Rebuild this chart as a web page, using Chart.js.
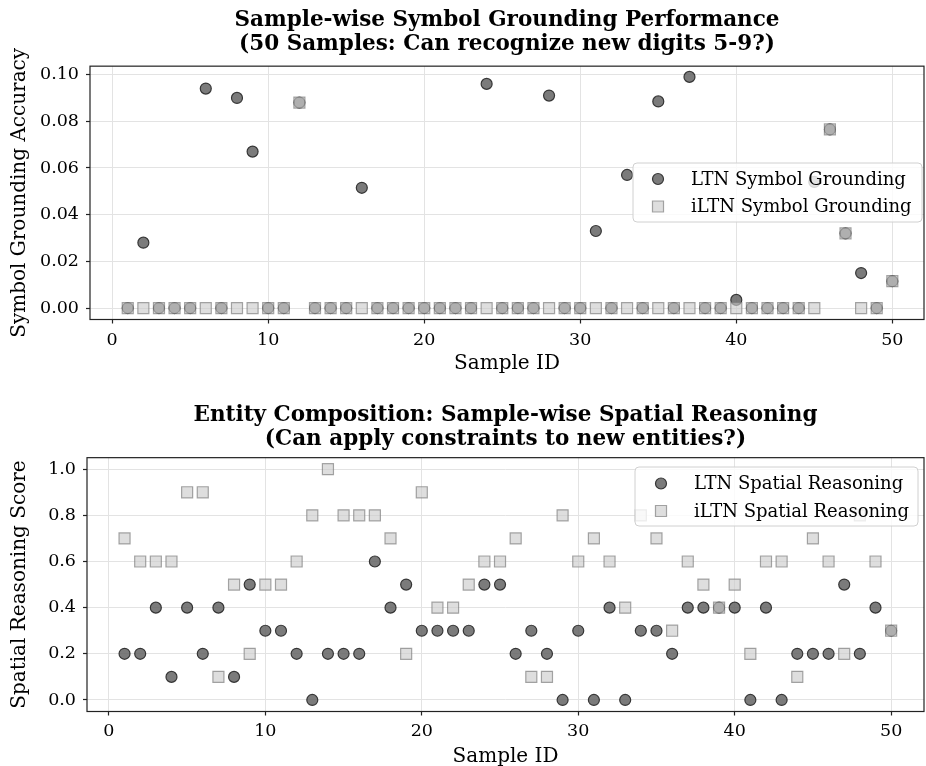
<!DOCTYPE html>
<html>
<head>
<meta charset="utf-8">
<title>Sample-wise Symbol Grounding and Spatial Reasoning</title>
<script src="https://cdn.jsdelivr.net/npm/chart.js@4.4.0/dist/chart.umd.min.js"></script>
<style>
    body { margin: 0; background: #ffffff; }
    canvas { display: block; }
</style>
</head>
<body>
<canvas id="groundingChart" width="926" height="383"></canvas>
<canvas id="spatialChart" width="926" height="383"></canvas>
<script>
// Sample IDs shared by both panels
const sampleIds = [1, 2, 3, 4, 5, 6, 7, 8, 9, 10,
    11, 12, 13, 14, 15, 16, 17, 18, 19, 20,
    21, 22, 23, 24, 25, 26, 27, 28, 29, 30,
    31, 32, 33, 34, 35, 36, 37, 38, 39, 40,
    41, 42, 43, 44, 45, 46, 47, 48, 49, 50];

// Top panel - symbol grounding accuracy
const ltnGrounding = [0, 0.028, 0, 0, 0, 0.094, 0, 0.090, 0.067, 0,
    0, 0.088, 0, 0, 0, 0.0515, 0, 0, 0, 0,
    0, 0, 0, 0.096, 0, 0, 0, 0.091, 0, 0,
    0.033, 0, 0.057, 0, 0.0885, 0, 0.099, 0, 0, 0.0035,
    0, 0, 0, 0, 0.054, 0.0765, 0.032, 0.015, 0, 0.0115];
const iltnGrounding = [0, 0, 0, 0, 0, 0, 0, 0, 0, 0,
    0, 0.088, 0, 0, 0, 0, 0, 0, 0, 0,
    0, 0, 0, 0, 0, 0, 0, 0, 0, 0,
    0, 0, 0, 0, 0, 0, 0, 0, 0, 0,
    0, 0, 0, 0, 0, 0.0765, 0.032, 0, 0, 0.0115];

// Bottom panel - spatial reasoning score
const ltnSpatial = [0.2, 0.2, 0.4, 0.1, 0.4, 0.2, 0.4, 0.1, 0.5, 0.3,
    0.3, 0.2, 0.0, 0.2, 0.2, 0.2, 0.6, 0.4, 0.5, 0.3,
    0.3, 0.3, 0.3, 0.5, 0.5, 0.2, 0.3, 0.2, 0.0, 0.3,
    0.0, 0.4, 0.0, 0.3, 0.3, 0.2, 0.4, 0.4, 0.4, 0.4,
    0.0, 0.4, 0.0, 0.2, 0.2, 0.2, 0.5, 0.2, 0.4, 0.3];
const iltnSpatial = [0.7, 0.6, 0.6, 0.6, 0.9, 0.9, 0.1, 0.5, 0.2, 0.5,
    0.5, 0.6, 0.8, 1.0, 0.8, 0.8, 0.8, 0.7, 0.2, 0.9,
    0.4, 0.4, 0.5, 0.6, 0.6, 0.7, 0.1, 0.1, 0.8, 0.6,
    0.7, 0.6, 0.4, 0.8, 0.7, 0.3, 0.6, 0.5, 0.4, 0.5,
    0.2, 0.6, 0.6, 0.1, 0.7, 0.6, 0.2, 0.8, 0.6, 0.3];

// Tick labels
const xTicks = [0, 10, 20, 30, 40, 50];
const groundingTicks = [0, 0.02, 0.04, 0.06, 0.08, 0.10];
const spatialTicks = [0, 0.2, 0.4, 0.6, 0.8, 1.0];

const FONT = 'DejaVu Serif';
const PLOT_RIGHT = 924;

const ltnStyle = {
    pointStyle: 'circle',
    pointRadius: 5.5,
    pointBackgroundColor: 'rgba(100, 100, 100, 0.85)',
    pointBorderColor: 'rgba(40, 40, 40, 0.9)',
    pointBorderWidth: 1.2,
    order: 1
};
const iltnStyle = {
    pointStyle: 'rect',
    pointRadius: 7.8,
    pointBackgroundColor: 'rgba(205, 205, 205, 0.65)',
    pointBorderColor: 'rgba(120, 120, 120, 0.65)',
    pointBorderWidth: 1.2,
    order: 0
};

function toPoints(values) {
    return sampleIds.map(function(id, i) {
        return { x: id, y: values[i] };
    });
}

// Stretch the plot area to the right edge, frame it and draw a boxed legend inside
const framePlugin = {
    id: 'frameAndLegend',
    afterLayout(chart) {
        const a = chart.chartArea;
        a.right = PLOT_RIGHT;
        a.width = a.right - a.left;
        const x = chart.scales.x;
        x.right = PLOT_RIGHT;
        x.width = x.right - x.left;
        x.configure();
        if (chart.titleBlock) {
            chart.titleBlock.right = PLOT_RIGHT;
            chart.titleBlock.width = PLOT_RIGHT - chart.titleBlock.left;
        }
    },
    afterDatasetsDraw(chart, args, opts) {
        const ctx = chart.ctx;
        const a = chart.chartArea;
        ctx.save();
        ctx.strokeStyle = '#222222';
        ctx.lineWidth = 1.2;
        ctx.strokeRect(a.left, a.top, a.right - a.left, a.bottom - a.top);

        const box = opts.box;
        ctx.beginPath();
        ctx.roundRect(box.left, box.top, box.width, box.height, 4);
        ctx.fillStyle = 'rgba(255, 255, 255, 0.8)';
        ctx.fill();
        ctx.strokeStyle = '#d0d0d0';
        ctx.lineWidth = 1;
        ctx.stroke();

        ctx.font = '18px "' + FONT + '"';
        ctx.textBaseline = 'middle';
        ctx.textAlign = 'left';
        chart.data.datasets.forEach(function(ds, i) {
            const cy = box.rowY[i];
            const cx = box.markerX;
            ctx.beginPath();
            if (ds.pointStyle === 'circle') {
                ctx.arc(cx, cy, ds.pointRadius, 0, Math.PI * 2);
            } else {
                const s = ds.pointRadius * Math.SQRT1_2;
                ctx.rect(cx - s, cy - s, 2 * s, 2 * s);
            }
            ctx.fillStyle = ds.pointBackgroundColor;
            ctx.fill();
            ctx.strokeStyle = ds.pointBorderColor;
            ctx.lineWidth = ds.pointBorderWidth;
            ctx.stroke();
            ctx.fillStyle = '#000000';
            ctx.fillText(ds.label, box.textX, cy + 1);
        });
        ctx.restore();
    }
};

function makeChart(id, cfg) {
    const ctx = document.getElementById(id).getContext('2d');
    return new Chart(ctx, {
        type: 'scatter',
        data: {
            datasets: [
                Object.assign({ label: cfg.labels[0], data: toPoints(cfg.ltn) }, ltnStyle),
                Object.assign({ label: cfg.labels[1], data: toPoints(cfg.iltn) }, iltnStyle)
            ]
        },
        plugins: [framePlugin],
        options: {
            responsive: false,
            animation: false,
            devicePixelRatio: 1,
            events: [],
            layout: { padding: { right: 2 } },
            plugins: {
                legend: { display: false },
                tooltip: { enabled: false },
                title: {
                    display: true,
                    fullSize: false,
                    text: cfg.title,
                    color: '#000000',
                    font: { family: FONT, size: 21.5, weight: 'bold', lineHeight: 1.12 },
                    padding: cfg.titlePadding
                },
                frameAndLegend: { box: cfg.legendBox }
            },
            scales: {
                x: {
                    type: 'linear',
                    min: cfg.xMin,
                    max: cfg.xMax,
                    afterBuildTicks: function(scale) {
                        scale.ticks = xTicks.map(function(v) { return { value: v }; });
                    },
                    afterFit: function(scale) { scale.height = cfg.xHeight; },
                    ticks: {
                        color: '#000000',
                        font: { family: FONT, size: 17.5 },
                        padding: cfg.xTickPad,
                        maxRotation: 0,
                        callback: function(value) { return String(value); }
                    },
                    grid: {
                        color: '#e3e3e3',
                        lineWidth: 1,
                        tickColor: '#222222',
                        tickLength: 4,
                        tickWidth: 1.2
                    },
                    border: { display: false },
                    title: {
                        display: true,
                        text: 'Sample ID',
                        color: '#000000',
                        font: { family: FONT, size: 20, lineHeight: 1.2 },
                        padding: { top: 0, bottom: cfg.xTitlePad }
                    }
                },
                y: {
                    min: cfg.yMin,
                    max: cfg.yMax,
                    afterBuildTicks: function(scale) {
                        scale.ticks = cfg.yTicks.map(function(v) { return { value: v }; });
                    },
                    afterFit: function(scale) { scale.width = cfg.yWidth; },
                    ticks: {
                        color: '#000000',
                        font: { family: FONT, size: 17.5 },
                        padding: 7,
                        callback: function(value) { return value.toFixed(cfg.decimals); }
                    },
                    grid: {
                        color: '#e3e3e3',
                        lineWidth: 1,
                        tickColor: '#222222',
                        tickLength: 4,
                        tickWidth: 1.2
                    },
                    border: { display: false },
                    title: {
                        display: true,
                        text: cfg.yTitle,
                        color: '#000000',
                        font: { family: FONT, size: 20, lineHeight: 1.2 },
                        padding: { top: 8, bottom: 0 }
                    }
                }
            }
        }
    });
}

makeChart('groundingChart', {
    title: ['Sample-wise Symbol Grounding Performance', '(50 Samples: Can recognize new digits 5-9?)'],
    labels: ['LTN Symbol Grounding', 'iLTN Symbol Grounding'],
    ltn: ltnGrounding,
    iltn: iltnGrounding,
    yTitle: 'Symbol Grounding Accuracy',
    yTicks: groundingTicks,
    decimals: 2,
    xMin: -1.42, xMax: 52.03,
    yMin: -0.0049, yMax: 0.1036,
    yWidth: 90, xHeight: 63.5,
    xTickPad: 6, xTitlePad: 7,
    titlePadding: { top: 8, bottom: 10 },
    legendBox: { left: 633, top: 163, width: 289, height: 59, markerX: 658, textX: 691, rowY: [179, 206.5] }
});

makeChart('spatialChart', {
    title: ['Entity Composition: Sample-wise Spatial Reasoning', '(Can apply constraints to new entities?)'],
    labels: ['LTN Spatial Reasoning', 'iLTN Spatial Reasoning'],
    ltn: ltnSpatial,
    iltn: iltnSpatial,
    yTitle: 'Spatial Reasoning Score',
    yTicks: spatialTicks,
    decimals: 1,
    xMin: -1.4, xMax: 52.1,
    yMin: -0.05, yMax: 1.05,
    yWidth: 87, xHeight: 54.5,
    xTickPad: 5, xTitlePad: -3,
    titlePadding: { top: 20, bottom: 6.5 },
    legendBox: { left: 635, top: 84, width: 283, height: 59, markerX: 661, textX: 694, rowY: [100.5, 128] }
});
</script>
</body>
</html>
